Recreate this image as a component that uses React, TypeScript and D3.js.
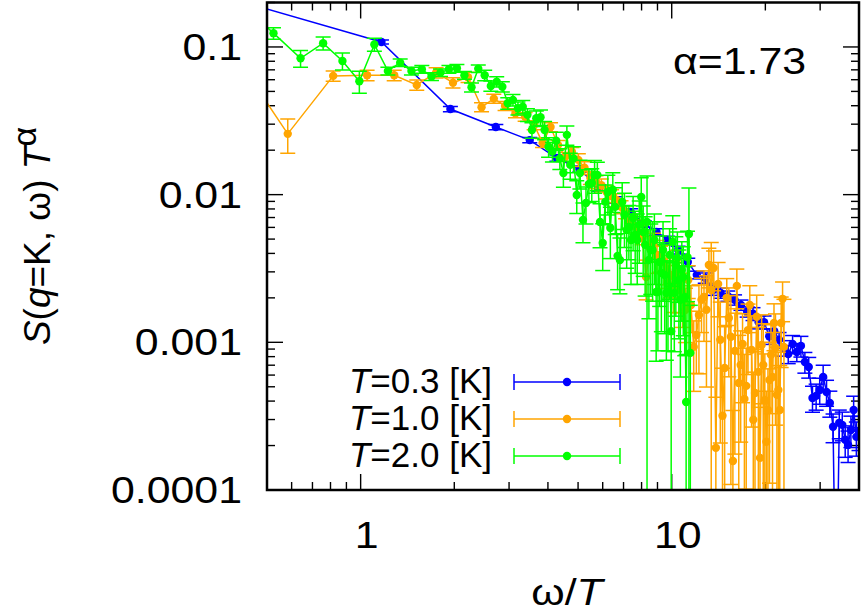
import React from 'react';
import * as d3 from 'd3';

// shared frequency grid ω_k (K)
const omega = [
  0.117, 0.350, 0.583, 0.816, 1.049, 1.282, 1.515, 1.748, 1.981, 2.214,
  2.447, 2.680, 2.913, 3.146, 3.379, 3.612, 3.845, 4.078, 4.311, 4.544,
  4.777, 5.010, 5.243, 5.476, 5.709, 5.942, 6.175, 6.408, 6.641, 6.874,
  7.107, 7.340, 7.573, 7.806, 8.039, 8.272, 8.505, 8.738, 8.971, 9.204,
  9.437, 9.670, 9.903, 10.136, 10.369, 10.602, 10.835, 11.068, 11.301, 11.534,
  11.767, 12.000, 12.233, 12.466, 12.699, 12.932, 13.165, 13.398, 13.631, 13.864,
  14.097, 14.330, 14.563, 14.796, 15.029, 15.262, 15.495, 15.728, 15.961, 16.194,
  16.427, 16.660, 16.893, 17.126, 17.359, 17.592, 17.825, 18.058, 18.291, 18.524,
  18.757, 18.990, 19.223, 19.456, 19.689, 19.922, 20.155, 20.388, 20.621, 20.854,
  21.087, 21.320, 21.553, 21.786, 22.019, 22.252, 22.485, 22.718, 22.951,
];

// T = 0.3 K (starts at omega index 0)
const sT03 = [
  0.21, 0.108, 0.038, 0.0287, 0.0234, 0.0177, 0.0149, 0.0111, 0.0092, 0.00764,
  0.00634, 0.00559, 0.00493, 0.00422, 0.0035, 0.00286, 0.00273, 0.00226, 0.00216, 0.00206,
  0.00194, 0.00179, 0.00161, 0.00156, 0.00137, 0.00137, 0.0011, 0.00119, 0.00104, 0.000916,
  0.000834, 0.000975, 0.00086, 0.000946, 0.000736, 0.000681, 0.00042, 0.000434, 0.000476, 0.000583,
  0.000461, 0.000389, 0.000268, 0.00001, 0.000285, 0.000276, 0.000219, 0.000202, 0.000255, 0.000348,
  0.000229, 0.00025,
];
const eT03 = [
  0.03, 0.03, 0.04, 0.04, 0.04, 0.05, 0.05, 0.05, 0.05, 0.05,
  0.05, 0.05, 0.06, 0.06, 0.06, 0.06, 0.08, 0.08, 0.08, 0.08,
  0.08, 0.08, 0.08, 0.1, 0.1, 0.1, 0.12, 0.12, 0.12, 0.12,
  0.14, 0.14, 0.14, 0.16, 0.16, 0.16, 0.2, 0.2, 0.2, 0.2,
  0.2, 0.2, 0.22, 0, 0.22, 0.22, 0.24, 0.24, 0.24, 0.24,
  0.26, 0.26,
];

// T = 1.0 K (starts at omega index 1)
const sT10 = [
  0.128, 0.0258, 0.0637, 0.0643, 0.0643, 0.0553, 0.067, 0.0573, 0.0624, 0.0391,
  0.0447, 0.0399, 0.0356, 0.0337, 0.0296, 0.0224, 0.0287, 0.0217, 0.018, 0.0195,
  0.0172, 0.0152, 0.013, 0.0122, 0.0116, 0.0104, 0.0098, 0.0092, 0.00826, 0.00764,
  0.00653, 0.00614, 0.00559, 0.00509, 0.00277, 0.00436, 0.00457, 0.00391, 0.00373, 0.0035,
  0.00309, 0.00286, 0.00245, 0.0035, 0.00226, 0.00194, 0.00166, 0.00264, 0.00179, 0.000931,
  0.00112, 0.00153, 0.00194, 0.00203, 0.00166, 0.00334, 0.00226, 0.00319, 0.000193, 0.00248,
  0.00104, 0.000318, 0.000671, 0.002, 0.00146, 0.00109, 0.000157, 0.000875, 0.00241, 0.000531,
  0.000703, 0.000975, 0.000414, 0.000507, 0.00121, 0.00179, 0.000889, 0.000299, 0.000454, 0.00149,
  0.000631, 0.000165, 0.000959, 0.000703, 0.000407, 0.000212, 0.000348, 0.000556, 0.000822, 0.000583,
  0.00135, 0.000916, 0.000441, 0.000476, 0.000348, 0.00135, 0.00197, 0.000931,
];
const eT10 = [
  0.08, 0.26, 0.08, 0.08, 0.08, 0.08, 0.08, 0.08, 0.08, 0.07,
  0.07, 0.07, 0.07, 0.07, 0.07, 0.07, 0.07, 0.07, 0.07, 0.07,
  0.1, 0.1, 0.1, 0.1, 0.1, 0.1, 0.1, 0.1, 0.1, 0.1,
  0.1, 0.1, 0.1, 0.1, 0.3, 0.2, 0.2, 0.25, 0.2, 0.3,
  0.25, 0.3, 0.35, 0.2, 0.3, 0.35, 0.4, 0.25, 0.35, 0.5,
  0.45, 0.6, 0.4, 0.5, 0.7, 0.3, 1.1, 0.3, 1.2, 0.4,
  0.8, 1.1, 0.9, 0.35, 0.6, 0.9, 1.2, 0.8, 0.3, 1.1,
  0.7, 0.6, 1.0, 0.8, 0.5, 0.35, 0.7, 1.1, 0.9, 0.4,
  1.0, 1.2, 0.6, 0.9, 1.05, 1.2, 0.9, 0.8, 0.6, 1.0,
  0.35, 0.7, 1.1, 0.8, 1.0, 0.5, 0.3, 1.1,
];

// T = 2.0 K (starts at omega index 3)
const sT20 = [
  0.2, 0.124, 0.0838, 0.106, 0.0804, 0.0586, 0.104, 0.0688, 0.0783, 0.0688,
  0.0706, 0.063, 0.067, 0.0706, 0.0718, 0.0643, 0.0533, 0.0713, 0.0643, 0.0544,
  0.0582, 0.0538, 0.0416, 0.0438, 0.0385, 0.0394, 0.0347, 0.0274, 0.0329, 0.0334,
  0.0274, 0.0211, 0.0196, 0.0232, 0.0176, 0.014, 0.0254, 0.0159, 0.0176, 0.00995,
  0.014, 0.00675, 0.00879, 0.0118, 0.012, 0.0136, 0.0136, 0.00653, 0.00471, 0.00893,
  0.0104, 0.00595, 0.0108, 0.00826, 0.00385, 0.00361, 0.00893, 0.0073, 0.00577, 0.00604,
  0.00493, 0.00695, 0.00533, 0.00493, 0.00624, 0.00964, 0.00559, 0.00457, 0.00653, 0.00361,
  0.00422, 0.00422, 0.00493, 0.00219, 0.00219, 0.0035, 0.00295, 0.00422, 0.00286, 0.00216,
  0.00219, 0.00391, 0.00119, 0.00479, 0.00216, 0.00334, 0.00373, 0.00264, 0.00194, 0.00309,
  0.00277, 0.00203, 0.000394, 0.00377, 0.00542, 0.000848,
];
const eT20 = [
  0.08, 0.09, 0.13, 0.1, 0.13, 0.17, 0.1, 0.06, 0.06, 0.06,
  0.06, 0.06, 0.06, 0.06, 0.06, 0.06, 0.07, 0.06, 0.08, 0.08,
  0.08, 0.08, 0.09, 0.09, 0.1, 0.1, 0.1, 0.12, 0.12, 0.12,
  0.14, 0.15, 0.15, 0.14, 0.16, 0.2, 0.15, 0.2, 0.2, 0.25,
  0.22, 0.3, 0.28, 0.25, 0.25, 0.25, 0.22, 0.33, 0.35, 0.3,
  0.3, 0.38, 0.3, 0.35, 0.41, 0.41, 0.35, 0.4, 0.45, 0.4,
  0.5, 0.4, 0.45, 0.5, 0.45, 0.35, 0.5, 0.55, 1.05, 0.6,
  0.5, 0.55, 0.5, 0.66, 0.6, 0.5, 0.6, 0.55, 0.6, 0.65,
  0.6, 0.5, 1.1, 0.5, 0.6, 0.55, 0.5, 0.6, 0.7, 0.55,
  0.6, 0.6, 1.1, 0.5, 1.05, 1.1,
];

const temperatures = [0.3, 1.0, 2.0];
const tempLabels = ['0.3', '1.0', '2.0'];
const startIndex = [0, 1, 3];
const seriesValues = [sT03, sT10, sT20];
const seriesErrors = [eT03, eT10, eT20];
const colors = ['#0000ff', '#ffa500', '#00ff00'];

const xMajor = [1, 10];
const xMinor = [0.5, 0.6, 0.7, 0.8, 0.9, 2, 3, 4, 5, 6, 7, 8, 9, 20, 30, 40];
const yMajor = [0.0001, 0.001, 0.01, 0.1];
const yMajorLabels = ['0.0001', '0.001', '0.01', '0.1'];

const W = 864, H = 613;
const L = 267, R = 859, TOP = 2.5, BOT = 490;
const FONT = "'Liberation Sans', Arial, Helvetica, sans-serif";
const STRETCH = 1.19;

const x = d3.scaleLog().domain([0.5, 40]).range([L, R]);
const y = d3.scaleLog().domain([1e-4, 0.2]).range([BOT, TOP]);

function yMinorTicks() {
  const out: number[] = [];
  [1e-4, 1e-3, 1e-2, 1e-1].forEach((d) => {
    for (let m = 2; m <= 9; m++) {
      const v = d * m;
      if (v <= 0.2) out.push(v);
    }
  });
  return out;
}

function Series({ idx }: { idx: number }) {
  const T = temperatures[idx];
  const vals = seriesValues[idx];
  const errs = seriesErrors[idx];
  const color = colors[idx];
  const pts = vals.map((v, i) => ({
    xv: omega[startIndex[idx] + i] / T,
    yv: v,
    lo: v * (1 - errs[i]),
    hi: v * (1 + errs[i]),
    e: errs[i],
  }));
  const line = d3
    .line<any>()
    .x((d) => x(d.xv))
    .y((d) => y(d.yv));
  const cap = 7.5;
  return (
    <g>
      <path d={line(pts) || ''} fill="none" stroke={color} strokeWidth={1.5} />
      {pts.map((p, i) => {
        if (p.e <= 0) return null;
        const px = x(p.xv);
        const yHi = y(p.hi);
        const yLo = p.lo > 0 ? y(p.lo) : BOT + 20;
        return (
          <g key={i} stroke={color} strokeWidth={1.5}>
            <line x1={px} x2={px} y1={yHi} y2={yLo} />
            <line x1={px - cap} x2={px + cap} y1={yHi} y2={yHi} />
            {p.lo > 0 && <line x1={px - cap} x2={px + cap} y1={yLo} y2={yLo} />}
          </g>
        );
      })}
      {pts.map((p, i) => (
        <circle key={'c' + i} cx={x(p.xv)} cy={y(p.yv)} r={4.2} fill={color} />
      ))}
    </g>
  );
}

function WideText({ tx, ty, anchor, children, size = 36 }: any) {
  return (
    <g transform={`translate(${tx},${ty}) scale(${STRETCH},1)`}>
      <text x={0} y={0} fontSize={size} textAnchor={anchor} fill="#000">
        {children}
      </text>
    </g>
  );
}

export default function App() {
  const yMin = yMinorTicks();
  const legendY = [382, 419, 456];
  return (
    <svg
      width={W}
      height={H}
      viewBox={`0 0 ${W} ${H}`}
      style={{ position: 'absolute', left: 0, top: 0, display: 'block', background: '#fff' }}
      fontFamily={FONT}
    >
      <rect x={0} y={0} width={W} height={H} fill="#fff" />
      <defs>
        <clipPath id="plotClip">
          <rect x={L} y={TOP} width={R - L} height={BOT - TOP} />
        </clipPath>
      </defs>

      {/* ticks */}
      <g stroke="#000" strokeWidth={1.4}>
        {xMajor.map((v) => (
          <g key={'xM' + v}>
            <line x1={x(v)} x2={x(v)} y1={BOT} y2={BOT - 16} />
            <line x1={x(v)} x2={x(v)} y1={TOP} y2={TOP + 16} />
          </g>
        ))}
        {xMinor.map((v) => (
          <g key={'xm' + v}>
            <line x1={x(v)} x2={x(v)} y1={BOT} y2={BOT - 8} />
            <line x1={x(v)} x2={x(v)} y1={TOP} y2={TOP + 8} />
          </g>
        ))}
        {yMajor.map((v) => (
          <g key={'yM' + v}>
            <line x1={L} x2={L + 16} y1={y(v)} y2={y(v)} />
            <line x1={R} x2={R - 16} y1={y(v)} y2={y(v)} />
          </g>
        ))}
        {yMin.map((v) => (
          <g key={'ym' + v}>
            <line x1={L} x2={L + 8} y1={y(v)} y2={y(v)} />
            <line x1={R} x2={R - 8} y1={y(v)} y2={y(v)} />
          </g>
        ))}
      </g>

      {/* data */}
      <g clipPath="url(#plotClip)">
        {[0, 1, 2].map((i) => (
          <Series key={i} idx={i} />
        ))}
      </g>

      {/* legend */}
      {[0, 1, 2].map((i) => (
        <g key={'lg' + i}>
          <text x={492} y={legendY[i] + 11} fontSize={35} textAnchor="end" fill="#000">
            <tspan fontStyle="italic">T</tspan>={tempLabels[i]} [K]
          </text>
          <g stroke={colors[i]} strokeWidth={1.5}>
            <line x1={514} x2={620} y1={legendY[i]} y2={legendY[i]} />
            <line x1={514} x2={514} y1={legendY[i] - 8} y2={legendY[i] + 8} />
            <line x1={620} x2={620} y1={legendY[i] - 8} y2={legendY[i] + 8} />
          </g>
          <circle cx={567} cy={legendY[i]} r={4.2} fill={colors[i]} />
        </g>
      ))}

      {/* frame */}
      <rect x={L} y={TOP} width={R - L} height={BOT - TOP} fill="none" stroke="#000" strokeWidth={2.5} />

      {/* y tick labels */}
      {yMajor.map((v, i) => (
        <WideText key={'yl' + v} tx={242} ty={y(v) + 13} anchor="end">
          {yMajorLabels[i]}
        </WideText>
      ))}
      {/* x tick labels */}
      {xMajor.map((v) => (
        <WideText key={'xl' + v} tx={x(v) + 6} ty={548} anchor="middle">
          {String(v)}
        </WideText>
      ))}

      {/* axis labels */}
      <WideText tx={567} ty={605} anchor="middle">
        ω/<tspan fontStyle="italic">T</tspan>
      </WideText>
      <g transform="translate(50,236) rotate(-90)">
        <text x={0} y={0} fontSize={37} textAnchor="middle" fill="#000">
          <tspan fontStyle="italic">S</tspan>(<tspan fontStyle="italic">q</tspan>=K, ω) <tspan fontStyle="italic">T</tspan>
          <tspan dy={-14} fontSize={34}>α</tspan>
        </text>
      </g>

      {/* annotation */}
      <WideText tx={673} ty={74} anchor="start">
        α=1.73
      </WideText>
    </svg>
  );
}
